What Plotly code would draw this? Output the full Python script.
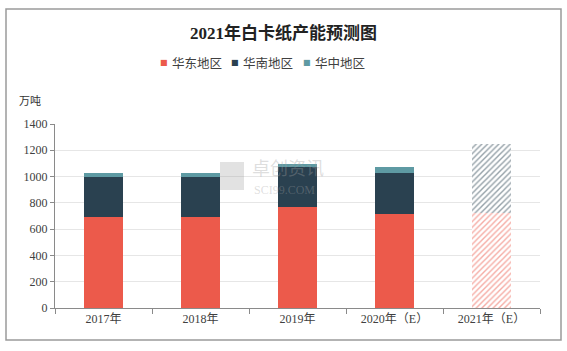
import plotly.graph_objects as go

categories = ["2017年", "2018年", "2019年", "2020年（E）", "2021年（E）"]
east = [695, 695, 765, 715, 720]
south = [300, 300, 310, 310, 525]
central = [35, 35, 18, 45, 0]
y_ticks = [0, 200, 400, 600, 800, 1000, 1200, 1400]
series_names = ["华东地区", "华南地区", "华中地区"]

red = "#EC5A4B"
navy = "#2A4150"
teal = "#5E9AA3"
colors = [red, navy, teal]

# last category is a forecast drawn hatched
def patterns(color, n):
    shapes = [""] * (n - 1) + ["/"]
    return dict(shape=shapes, fgcolor=color, bgcolor="white", size=4, solidity=0.35)

fig = go.Figure()
for name, vals, col in zip(series_names, [east, south, central], colors):
    fig.add_trace(go.Bar(
        x=categories, y=vals, name=name, showlegend=False,
        marker=dict(color=col, line=dict(width=0), pattern=patterns(col, len(vals))),
    ))

# plot area in pixels: x 55..540, y 124..308
def px_x(p):
    return (p - 55) / 485.0

def px_y(p):
    return (308 - p) / 184.0

annotations = []
legend_sq_x = [164, 235, 307]
for name, col, sx in zip(series_names, colors, legend_sq_x):
    annotations.append(dict(text="■", xref="paper", yref="paper", x=px_x(sx), y=px_y(62),
                            xanchor="center", yanchor="middle", showarrow=False,
                            font=dict(family="DejaVu Sans", size=8, color=col)))
    annotations.append(dict(text=name, xref="paper", yref="paper", x=px_x(sx + 6), y=px_y(62),
                            xanchor="left", yanchor="middle", showarrow=False,
                            font=dict(family="Noto Sans CJK SC", size=12.5, color="#404040")))

annotations += [
    dict(text="万吨", xref="paper", yref="paper", x=px_x(17), y=px_y(100), xanchor="left", yanchor="middle",
         showarrow=False, font=dict(family="Noto Sans CJK SC", size=11, color="#333333")),
    dict(text="卓创资讯", xref="paper", yref="paper", x=px_x(250), y=px_y(167),
         xanchor="left", yanchor="middle", showarrow=False,
         font=dict(family="Noto Sans CJK SC", size=18, color="rgba(160,160,160,0.35)")),
    dict(text="SCI99.COM", xref="paper", yref="paper", x=px_x(252), y=px_y(190),
         xanchor="left", yanchor="middle", showarrow=False,
         font=dict(family="Liberation Serif", size=12, color="rgba(160,160,160,0.35)")),
]

fig.update_layout(
    barmode="stack",
    bargap=0.6,
    width=567, height=351,
    margin=dict(l=55, r=27, t=124, b=43),
    paper_bgcolor="white",
    plot_bgcolor="white",
    font=dict(family="Liberation Serif, Noto Sans CJK SC", size=12, color="#404040"),
    title=dict(text="<b>2021年白卡纸产能预测图</b>", x=0.5, xanchor="center", y=0.905, yanchor="middle",
               font=dict(family="Liberation Serif, Noto Sans CJK SC", size=17, color="#222222")),
    showlegend=False,
    xaxis=dict(type="category", showline=True, linecolor="#8a8a8a", linewidth=1,
               ticks="outside", tickson="boundaries", ticklen=5, tickcolor="#8a8a8a",
               tickfont=dict(size=12, color="#404040")),
    yaxis=dict(range=[0, 1400], tickvals=y_ticks, showline=True, linecolor="#8a8a8a", linewidth=1,
               ticks="outside", ticklen=4, tickcolor="#8a8a8a",
               showgrid=True, gridcolor="#e6e6e6", gridwidth=1, zeroline=False,
               tickfont=dict(size=12, color="#404040")),
    shapes=[dict(type="rect", xref="paper", yref="paper", x0=px_x(6), x1=px_x(561), y0=px_y(340), y1=px_y(9),
                 line=dict(color="#9a9a9a", width=1.5), layer="below"),
            dict(type="rect", xref="paper", yref="paper", x0=px_x(220), x1=px_x(244), y0=px_y(190), y1=px_y(162),
                 fillcolor="rgba(160,160,160,0.3)", line=dict(width=0), layer="above")],
    annotations=annotations,
)

fig.write_html("out.html")
